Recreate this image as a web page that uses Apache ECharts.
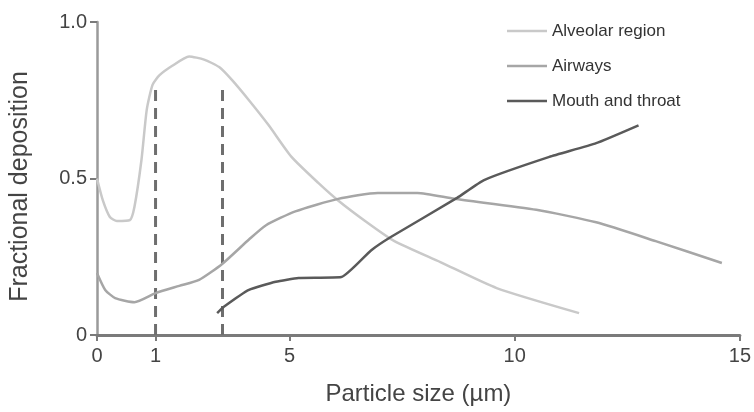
<!DOCTYPE html>
<html>
<head>
<meta charset="utf-8">
<script src="https://cdn.jsdelivr.net/npm/echarts@6/dist/echarts.min.js"></script>
<style>
  html, body { margin: 0; padding: 0; background: #fff; }
  #cont { width: 754px; height: 412px; }
</style>
</head>
<body>
<div id="cont"></div>
<script>
// particle size (um) and fractional deposition
var alveolarX = [0, 0.1, 0.22, 0.34, 0.56, 0.64, 0.76, 0.85, 0.95, 1.12, 1.5, 2.0, 2.45, 2.9, 3.28, 3.79, 4.38, 5.04, 5.64, 6.08, 6.74, 7.33, 8.35, 9.6, 11.43];
var alveolarY = [0.5, 0.43, 0.377, 0.364, 0.367, 0.41, 0.56, 0.72, 0.8, 0.83, 0.86, 0.89, 0.88, 0.856, 0.815, 0.75, 0.67, 0.57, 0.486, 0.43, 0.358, 0.3, 0.233, 0.15, 0.07];

var airwaysX = [0, 0.14, 0.31, 0.64, 1.0, 1.71, 2.3, 2.99, 3.79, 4.29, 5.13, 6.08, 6.96, 7.84, 8.66, 10.48, 11.81, 13.13, 14.6];
var airwaysY = [0.198, 0.144, 0.118, 0.105, 0.134, 0.157, 0.176, 0.227, 0.305, 0.35, 0.395, 0.435, 0.454, 0.454, 0.435, 0.4, 0.36, 0.3, 0.23];

var mouthX = [2.84, 3.04, 3.79, 4.59, 5.2, 6.15, 6.81, 7.25, 8.72, 9.32, 10.77, 11.81, 12.75];
var mouthY = [0.07, 0.09, 0.144, 0.17, 0.182, 0.185, 0.27, 0.313, 0.438, 0.495, 0.569, 0.613, 0.67];

var cutX = [1, 3];      // dashed size cut-offs
var cutTop = 0.8;

var xTicks = [0, 1, 5, 10, 15];
var yTicks = [0, 0.5, 1];
var yTickLabels = ['0', '0.5', '1.0'];

// the original x axis is stretched below 5 um: piecewise linear knots
var knotX = [0, 1, 5, 15];
var knotU = [0, 1.366, 4.491, 15];
function toAxis(x) {
  for (var i = 1; i < knotX.length; i++) {
    if (x <= knotX[i]) {
      var t = (x - knotX[i - 1]) / (knotX[i] - knotX[i - 1]);
      return knotU[i - 1] + t * (knotU[i] - knotU[i - 1]);
    }
  }
  return knotU[knotU.length - 1];
}
function pairs(xs, ys) {
  return xs.map(function (x, i) { return [toAxis(x), ys[i]]; });
}

var myChart = echarts.init(document.getElementById('cont'));
var font = 'Liberation Sans, Arial, sans-serif';
var tickU = xTicks.map(toAxis);

var series = [
  {
    name: 'Alveolar region', type: 'line', data: pairs(alveolarX, alveolarY),
    symbol: 'none', smooth: 0.2,
    lineStyle: { color: '#c9c9c9', width: 2.5 }, itemStyle: { color: '#c9c9c9' }
  },
  {
    name: 'Airways', type: 'line', data: pairs(airwaysX, airwaysY),
    symbol: 'none', smooth: 0.2,
    lineStyle: { color: '#a6a6a6', width: 2.5 }, itemStyle: { color: '#a6a6a6' }
  },
  {
    name: 'Mouth and throat', type: 'line', data: pairs(mouthX, mouthY),
    symbol: 'none', smooth: 0.15,
    lineStyle: { color: '#5a5a5a', width: 2.5 }, itemStyle: { color: '#5a5a5a' }
  }
];
cutX.forEach(function (c, i) {
  series.push({
    name: 'cut' + i, type: 'line', data: pairs([c, c], [0, cutTop]),
    symbol: 'none', silent: true, z: 1,
    lineStyle: { color: '#6e6e6e', width: 3, type: [11, 7] }
  });
});

var option = {
  animation: false,
  grid: { left: 97, right: 9, top: 22, bottom: 77, containLabel: false },
  legend: {
    data: ['Alveolar region', 'Airways', 'Mouth and throat'],
    orient: 'vertical', left: 502, top: 16,
    icon: 'rect', itemWidth: 40, itemHeight: 2.5, itemGap: 15,
    textStyle: { fontFamily: font, fontSize: 17, color: '#333', lineHeight: 20 }
  },
  xAxis: {
    type: 'value', min: 0, max: 15,
    name: 'Particle size (µm)', nameLocation: 'middle', nameGap: 47,
    nameTextStyle: { fontFamily: font, fontSize: 24, color: '#444' },
    axisLine: { lineStyle: { color: '#7a7a7a', width: 3 } },
    axisTick: { show: true, length: 6, customValues: tickU, lineStyle: { color: '#7a7a7a', width: 2 } },
    axisLabel: {
      customValues: tickU, margin: 11,
      fontFamily: font, fontSize: 20, color: '#444',
      formatter: function (v) {
        var best = 0;
        tickU.forEach(function (u, i) { if (Math.abs(u - v) < Math.abs(tickU[best] - v)) best = i; });
        return String(xTicks[best]);
      }
    },
    splitLine: { show: false }
  },
  yAxis: {
    type: 'value', min: 0, max: 1, interval: 0.5,
    name: 'Fractional deposition', nameLocation: 'middle', nameGap: 64,
    nameTextStyle: { fontFamily: font, fontSize: 25, color: '#444', padding: [0, 16, 0, 0] },
    axisLine: { show: true, lineStyle: { color: '#9a9a9a', width: 2.5 } },
    axisTick: { show: true, length: 7, lineStyle: { color: '#7a7a7a', width: 2 } },
    axisLabel: {
      margin: 10, fontFamily: font, fontSize: 20, color: '#444',
      formatter: function (v) {
        var i = yTicks.indexOf(v);
        return i >= 0 ? yTickLabels[i] : '';
      }
    },
    splitLine: { show: false }
  },
  series: series
};

myChart.setOption(option);
</script>
</body>
</html>
